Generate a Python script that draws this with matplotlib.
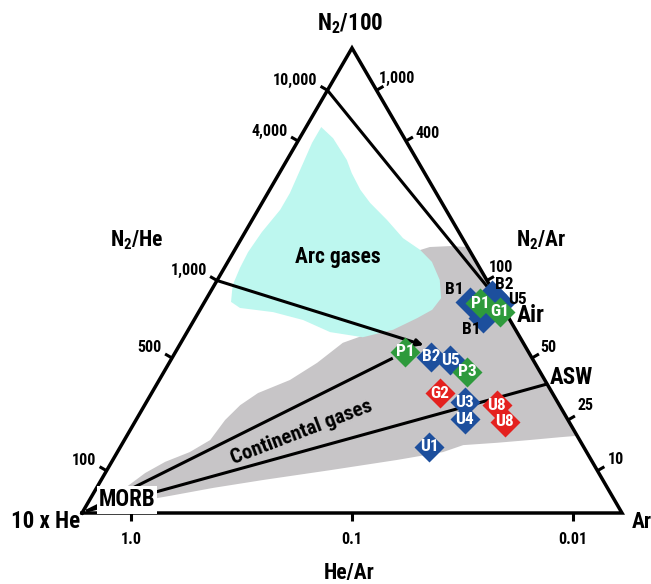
import numpy as np
import matplotlib
matplotlib.use('Agg')
import matplotlib.pyplot as plt
from matplotlib.patches import Polygon
from matplotlib import font_manager as fm

# ---------------- data (ternary fractions: N2/100, 10xHe, Ar) ----------------
sample_names = ['B1', 'B2', 'U5', 'B1', 'P1', 'G1', 'P1', 'B2', 'U5', 'P3',
                'G2', 'U3', 'U4', 'U8', 'U8', 'U1']
sample_group = ['blue', 'blue', 'blue', 'blue', 'green', 'green', 'green', 'blue',
                'blue', 'green', 'red', 'blue', 'blue', 'red', 'red', 'blue']
sample_n2 = [0.454, 0.469, 0.451, 0.419, 0.451, 0.433, 0.347, 0.336, 0.329, 0.304,
             0.257, 0.238, 0.202, 0.232, 0.196, 0.143]
sample_ar = [0.491, 0.524, 0.549, 0.534, 0.512, 0.558, 0.425, 0.479, 0.517, 0.561,
             0.534, 0.590, 0.608, 0.652, 0.685, 0.572]
sample_label_inside = [False, False, False, False, True, True, True, True, True, True,
                       True, True, True, True, True, True]

# reference compositions (N2/100, 10xHe, Ar)
MORB = (0.004, 0.990, 0.006)
AIR = (0.4554, 0.0, 0.5446)      # N2/Ar ~ 84
ASW = (0.2774, 0.0, 0.7226)      # N2/Ar ~ 38
N2HE_10000 = (10 / 11, 1 / 11, 0.0)
N2HE_1000 = (0.5, 0.5, 0.0)
P1_TARGET_A = (0.361, 0.187, 0.452)
P1_TARGET_B = (0.333, 0.258, 0.409)

# tick values
left_ticks = [10000, 4000, 1000, 500, 100]          # N2/He
left_tick_labels = ['10,000', '4,000', '1,000', '500', '100']
right_ticks = [1000, 400, 100, 50, 25, 10]          # N2/Ar
right_tick_labels = ['1,000', '400', '100', '50', '25', '10']
base_ticks = [1.0, 0.1, 0.01]                       # He/Ar
base_tick_labels = ['1.0', '0.1', '0.01']

# field outlines (N2/100 fraction, Ar fraction)
cont_n2 = [0.006, 0.028, 0.054, 0.086, 0.110, 0.131, 0.157, 0.200, 0.232, 0.258,
           0.286, 0.323, 0.366, 0.387, 0.402, 0.458, 0.561, 0.572, 0.574, 0.572,
           0.166, 0.163, 0.157, 0.151, 0.146, 0.131, 0.114, 0.092, 0.071, 0.054,
           0.037, 0.022, 0.006]
cont_ar = [0.012, 0.029, 0.053, 0.074, 0.099, 0.134, 0.159, 0.165, 0.177, 0.197,
           0.242, 0.274, 0.300, 0.340, 0.382, 0.378, 0.333, 0.358, 0.394, 0.428,
           0.834, 0.804, 0.751, 0.693, 0.633, 0.603, 0.526, 0.413, 0.300, 0.216,
           0.145, 0.078, 0.030]
arc_n2 = [0.830, 0.806, 0.759, 0.731, 0.695, 0.667, 0.630, 0.591, 0.566, 0.540,
          0.501, 0.462, 0.437, 0.419, 0.394, 0.378, 0.389, 0.415, 0.432, 0.441,
          0.454, 0.490, 0.527, 0.561, 0.604, 0.652, 0.688, 0.738, 0.796]
arc_ar = [0.028, 0.062, 0.111, 0.134, 0.168, 0.200, 0.250, 0.299, 0.343, 0.378,
          0.412, 0.434, 0.430, 0.411, 0.379, 0.331, 0.265, 0.202, 0.138, 0.072,
          0.049, 0.034, 0.029, 0.027, 0.031, 0.041, 0.041, 0.035, 0.028]

# ---------------- styling ----------------
colors = {'blue': '#1d4f9d', 'green': '#2e9a3c', 'red': '#e4211f'}
CYAN = '#bdf7ef'
GREY = '#c7c5c7'

# pick a condensed bold face if one is installed
names = {f.name for f in fm.fontManager.ttflist}
cond = None
stretch = 'normal'
for cand in ['Liberation Sans Narrow', 'Arial Narrow', 'Roboto Condensed',
             'Open Sans Condensed', 'Noto Sans Condensed', 'DejaVu Sans Condensed']:
    if cand in names:
        cond = cand
        break
if cond is None:
    for f in fm.fontManager.ttflist:
        st = f.stretch
        if st in ('condensed', 'semi-condensed', 'extra-condensed') or \
                (isinstance(st, (int, float)) and st < 500):
            cond = f.name
            stretch = st if isinstance(st, str) else 'condensed'
            break
SCALE = 1.0
if cond is None:
    cond = 'Liberation Sans'
    SCALE = 0.9

plt.rcParams['font.family'] = [cond, 'Liberation Sans', 'DejaVu Sans']
plt.rcParams['font.weight'] = 'bold'
plt.rcParams['font.stretch'] = stretch
pat = f'{cond}:bold' + (f':{stretch}' if stretch != 'normal' else '')
plt.rcParams['mathtext.fontset'] = 'custom'
plt.rcParams['mathtext.rm'] = pat
plt.rcParams['mathtext.it'] = pat
plt.rcParams['mathtext.bf'] = pat


def fs(v):
    return v * SCALE


def tern(n2, he, ar):
    s = n2 + he + ar
    a = n2 / s
    c = ar / s
    return c + a / 2.0, a


fig = plt.figure(figsize=(6.51, 5.84), dpi=100)
ax = fig.add_axes([0, 0, 1, 1])
ax.axis('off')
# layout: triangle base 540 px wide, height 465 px
ax.set_xlim(-82 / 540, 569 / 540)
ax.set_ylim((513 - 584) / 465, 513 / 465)


def P(px, py):
    """pixel layout position -> axes data coords (for text placement only)"""
    return (px - 82) / 540, (513 - py) / 465


# fields
cont_xy = [tern(n, 1 - n - a, a) for n, a in zip(cont_n2, cont_ar)]
arc_xy = [tern(n, 1 - n - a, a) for n, a in zip(arc_n2, arc_ar)]
ax.add_patch(Polygon(cont_xy, closed=True, facecolor=GREY, edgecolor='none', zorder=1))
ax.add_patch(Polygon(arc_xy, closed=True, facecolor=CYAN, edgecolor='none', zorder=1.5))

# triangle
tri = [tern(0, 1, 0), tern(0, 0, 1), tern(1, 0, 0), tern(0, 1, 0)]
ax.plot([p[0] for p in tri], [p[1] for p in tri], color='k', lw=2.5,
        solid_joinstyle='miter', zorder=3, clip_on=False)


# reference lines
def seg(p, q, **kw):
    x0, y0 = tern(*p)
    x1, y1 = tern(*q)
    ax.plot([x0, x1], [y0, y1], color='k', lw=2.2, solid_capstyle='butt', zorder=2.5, **kw)


seg(N2HE_10000, AIR)
seg(MORB, P1_TARGET_B)
seg(MORB, ASW)
x0, y0 = tern(*N2HE_1000)
x1, y1 = tern(*P1_TARGET_A)
ax.annotate('', xy=(x1, y1), xytext=(x0, y0),
            arrowprops=dict(arrowstyle='-|>', color='k', lw=2.2, mutation_scale=10,
                            shrinkA=0, shrinkB=0), zorder=2.6)

# ticks
TL = 8  # px


def tick(pt, normal, label, off, ha, va):
    d = ax.transData.transform(pt)
    e = d + TL * np.asarray(normal)
    e = ax.transData.inverted().transform(e)
    ax.plot([pt[0], e[0]], [pt[1], e[1]], color='k', lw=2.2, solid_capstyle='butt', zorder=3)
    ax.annotate(label, xy=pt, xytext=off, textcoords='offset pixels', ha=ha, va=va,
                fontsize=fs(11.5), fontweight='bold')


nl = (-0.865, 0.502)
nr = (0.865, 0.502)
nb = (0.0, -1.0)
for r, lab in zip(left_ticks, left_tick_labels):
    a = r / (r + 1000.0)
    tick(tern(a, 1 - a, 0), nl, lab, (-10, 10), 'right', 'center')
right_offs = [(2, 12), (10, 8), (2, 13), (8, 11), (10, 14), (10, 11)]
for r, lab, off in zip(right_ticks, right_tick_labels, right_offs):
    a = r / (r + 100.0)
    tick(tern(a, 0, 1 - a), nr, lab, off, 'left', 'center')
for r, lab in zip(base_ticks, base_tick_labels):
    b = 10 * r / (10 * r + 1)
    tick(tern(0, b, 1 - b), nb, lab, (0, -27), 'center', 'center')

# samples
for i, (nm, g, n2, ar, inside) in enumerate(zip(sample_names, sample_group, sample_n2,
                                                sample_ar, sample_label_inside)):
    x, y = tern(n2, max(0.0, 1 - n2 - ar), ar)
    z = 5 + i * 0.01
    ax.plot([x], [y], marker='D', ms=15.5, color=colors[g], mec='none', zorder=z)
    if inside:
        ax.text(x, y, nm, color='white', fontsize=fs(12.5), fontweight='bold',
                ha='center', va='center', zorder=z + 0.005)

outside_offsets = [(-15, 12), (13, 10), (17, 4), (-12, -11)]
k = 0
for nm, n2, ar, inside in zip(sample_names, sample_n2, sample_ar, sample_label_inside):
    if not inside:
        x, y = tern(n2, max(0.0, 1 - n2 - ar), ar)
        ax.annotate(nm, xy=(x, y), xytext=outside_offsets[k], textcoords='offset pixels',
                    ha='center', va='center', fontsize=fs(12.5), fontweight='bold', zorder=7)
        k += 1

# text labels
ax.text(*P(350, 24), 'N$_2$/100', ha='center', va='center', fontsize=fs(16.5))
ax.text(*P(137, 240), 'N$_2$/He', ha='center', va='center', fontsize=fs(15.5))
ax.text(*P(541, 240), 'N$_2$/Ar', ha='center', va='center', fontsize=fs(15.5))
ax.text(*P(80, 522), '10 x He', ha='right', va='center', fontsize=fs(16.5))
ax.text(*P(632, 522), 'Ar', ha='left', va='center', fontsize=fs(15.5))
ax.text(*P(349, 573), 'He/Ar', ha='center', va='center', fontsize=fs(15.5))
ax.text(*P(338, 257), 'Arc gases', ha='center', va='center', fontsize=fs(15.5), zorder=4)
ax.text(*P(302, 432), 'Continental gases', ha='center', va='center', fontsize=fs(15),
        rotation=21, rotation_mode='anchor', zorder=4)
ax.text(*P(531, 316), 'Air', ha='center', va='center', fontsize=fs(17), zorder=8)
ax.text(*P(571, 377), 'ASW', ha='center', va='center', fontsize=fs(16.5), zorder=8)
ax.text(*P(127, 500), 'MORB', ha='center', va='center', fontsize=fs(16.5), zorder=4,
        bbox=dict(facecolor='white', edgecolor='none', pad=1.5))

fig.savefig('out.png', dpi=100)
